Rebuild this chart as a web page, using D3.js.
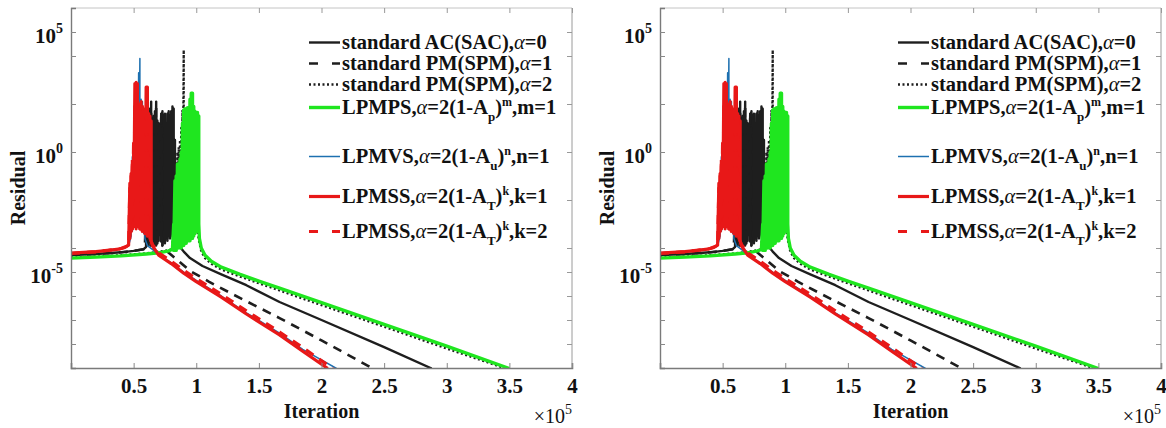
<!doctype html>
<html lang="en">
<head>
<meta charset="utf-8">
<title>Residual vs iteration</title>
<style>
  body { margin: 0; background: #fff; }
  svg text { font-family: "Liberation Serif", "Times New Roman", Times, serif; font-weight: bold; fill: #111; }
</style>
</head>
<body>
<script src="https://cdn.jsdelivr.net/npm/d3@7/dist/d3.min.js"></script>
<script>

// x is iteration / 1e5, y values are log10(residual)
var xTicks = [0.5, 1, 1.5, 2, 2.5, 3, 3.5, 4];
var yLabelTicks = [5, 0, -5];
var yMinorTicks = [4, 2, -2, -4, -6, -7, -8];

// each series: plateau points, oscillating band rows [x, high, low], converging tail
var sacStart = [[0,-4.29],[0.2,-4.25],[0.4,-4.18],[0.5,-4.12],[0.58,-4.05],[0.6,-3.95]];
var sacBand = [[0.61,-1.5,-3.8],[0.62,1.0,-3.9],[0.63,1.8,-3.7],[0.64,2.1,-3.9],[0.65,1.4,-3.8],
  [0.66,1.5,-4.0],[0.67,1.7,-3.6],[0.68,2.1,-3.9],[0.69,1.3,-3.8],[0.70,1.2,-3.7],[0.71,0.8,-3.2],
  [0.72,1.6,-3.5],[0.73,1.7,-3.9],[0.74,1.5,-3.7],[0.75,1.6,-3.8],[0.76,1.2,-3.6],[0.77,1.6,-3.7],
  [0.78,1.7,-3.5],[0.79,1.5,-3.6],[0.80,1.7,-3.4],[0.81,1.9,-3.5],[0.82,1.8,-3.6],[0.83,0.5,-3.7]];
var sacEnd = [[0.86,-3.9],[0.9,-4.15],[0.95,-4.42],[1.05,-4.75],[1.2,-5.1],[1.4,-5.55],[1.665,-6.25],
  [2.0,-7.0],[2.5,-8.13],[2.88,-9.02]];

var spm1Start = [[0,-4.29],[0.2,-4.25],[0.4,-4.18],[0.5,-4.12],[0.58,-4.05],[0.59,-3.95]];
var spm1Band = [[0.60,-2.0,-3.9],[0.61,0.5,-3.8],[0.62,1.2,-3.9],[0.63,1.7,-3.7],[0.64,1.6,-3.9],
  [0.65,1.3,-3.8],[0.66,1.4,-4.0],[0.67,1.4,-3.7],[0.68,1.9,-3.9],[0.69,1.2,-3.8],[0.70,1.0,-3.6],
  [0.71,1.1,-3.5],[0.72,1.4,-3.8],[0.73,1.0,-3.9]];
var spm1End = [[0.74,-3.95],[0.78,-4.2],[0.85,-4.5],[0.95,-4.95],[1.1,-5.4],[1.3,-5.95],[1.665,-6.92],
  [2.0,-7.85],[2.2,-8.42],[2.41,-9.02]];

var spm2Start = [[0,-4.4],[0.2,-4.36],[0.4,-4.3],[0.6,-4.22],[0.75,-4.12],[0.81,-4.05]];
var spm2Band = [[0.82,-2.0,-4.0],[0.83,-1.0,-3.9],[0.84,-0.5,-4.0],[0.85,0.0,-3.8],[0.86,0.2,-3.9],
  [0.87,0.5,-3.7],[0.88,1.0,-3.8],[0.89,1.75,-3.6],[0.90,4.25,-3.7],[0.91,1.5,-3.5],[0.92,1.5,-3.6],
  [0.93,1.4,-3.5],[0.94,1.6,-3.4],[0.95,1.5,-3.5],[0.96,2.0,-3.3],[0.97,2.2,-3.4],[0.98,1.5,-3.2],
  [0.99,1.3,-3.0]];
var spm2End = [[1.0,-3.0],[1.02,-3.65],[1.04,-4.15],[1.07,-4.42],[1.12,-4.66],[1.2,-4.9],[1.35,-5.19],
  [1.5,-5.47],[1.665,-5.77],[2.0,-6.38],[2.5,-7.28],[3.0,-8.19],[3.47,-9.02]];

var lpmpsStart = [[0,-4.42],[0.2,-4.38],[0.4,-4.33],[0.6,-4.25],[0.7,-4.2],[0.78,-4.12],[0.81,-4.05]];
var lpmpsBand = [[0.82,-3.0,-4.1],[0.83,-1.2,-4.0],[0.84,-1.0,-4.1],[0.85,-0.5,-3.9],[0.86,-0.8,-4.0],
  [0.87,-0.3,-3.9],[0.88,0.0,-4.0],[0.89,1.2,-3.8],[0.90,1.75,-3.9],[0.91,1.8,-3.7],[0.92,1.7,-3.8],
  [0.93,1.85,-3.7],[0.94,1.75,-3.6],[0.95,2.2,-3.7],[0.96,2.45,-3.5],[0.97,2.45,-3.6],[0.98,1.9,-3.5],
  [0.99,1.7,-3.4],[1.00,1.6,-3.3],[1.01,1.65,-3.2],[1.02,1.5,-3.0]];
var lpmpsEnd = [[1.025,-3.6],[1.04,-4.0],[1.07,-4.3],[1.12,-4.55],[1.2,-4.8],[1.35,-5.1],[1.5,-5.38],
  [1.665,-5.67],[2.0,-6.28],[2.5,-7.18],[3.0,-8.09],[3.5,-9.02]];

var lpmvsStart = [[0,-4.2],[0.2,-4.14],[0.4,-4.02],[0.46,-3.9],[0.48,-3.5]];
var lpmvsBand = [[0.49,-0.2,-3.3],[0.50,0.1,-3.1],[0.51,1.5,-3.0],[0.52,2.5,-3.2],[0.53,2.8,-3.1],
  [0.54,3.3,-3.0],[0.55,3.9,-3.2],[0.56,2.2,-3.1],[0.57,2.1,-3.3],[0.58,1.5,-3.4],[0.59,1.0,-3.6]];
var lpmvsEnd = [[0.61,-3.9],[0.66,-4.1],[0.7,-4.28],[0.8,-4.62],[0.9,-5.0],[1.0,-5.35],[1.2,-6.0],
  [1.4,-6.7],[1.665,-7.55],[1.85,-8.22],[2.12,-9.02]];

var lpmss1Start = [[0,-4.21],[0.1,-4.18],[0.2,-4.15],[0.3,-4.1],[0.38,-4.05],[0.43,-3.98],[0.46,-3.88]];
var lpmss1Band = [[0.47,-1.3,-3.6],[0.48,-0.9,-3.3],[0.49,-0.5,-3.2],[0.50,0.0,-3.1],[0.51,2.85,-3.0],
  [0.52,2.9,-3.2],[0.53,2.85,-3.1],[0.54,2.0,-3.0],[0.55,1.8,-3.2],[0.56,2.1,-3.1],[0.57,1.9,-3.3],
  [0.58,1.7,-3.2],[0.59,1.8,-3.4],[0.60,2.7,-3.3],[0.61,2.7,-3.5],[0.62,1.6,-3.4],[0.63,1.5,-3.6],
  [0.64,1.3,-3.7]];
var lpmss1End = [[0.65,-3.9],[0.7,-4.3],[0.8,-4.65],[0.9,-5.05],[1.0,-5.4],[1.2,-6.05],[1.4,-6.75],
  [1.665,-7.62],[1.85,-8.3],[2.05,-9.02]];

var lpmss2Start = [[0,-4.23],[0.2,-4.16],[0.4,-4.02],[0.46,-3.9]];
var lpmss2Band = [[0.47,-1.5,-3.5],[0.48,-1.0,-3.3],[0.49,-0.3,-3.2],[0.50,0.5,-3.1],[0.51,2.0,-3.0],
  [0.52,2.4,-3.2],[0.53,1.9,-3.1],[0.54,1.7,-3.0],[0.55,1.9,-3.2],[0.56,1.6,-3.1],[0.57,1.8,-3.3],
  [0.58,1.5,-3.2],[0.59,1.7,-3.4],[0.60,1.9,-3.3],[0.61,1.5,-3.5],[0.62,1.4,-3.4],[0.63,1.2,-3.6]];
var lpmss2End = [[0.65,-3.85],[0.7,-4.2],[0.8,-4.55],[0.9,-4.93],[1.0,-5.28],[1.2,-5.93],[1.4,-6.62],
  [1.665,-7.5],[1.85,-8.15],[2.09,-9.02]];

// legend texts, split into plain / italic / sub / sup pieces
var legendLabels = [
  [["standard AC(SAC),"],["α","i"],["=0"]],
  [["standard PM(SPM),"],["α","i"],["=1"]],
  [["standard PM(SPM),"],["α","i"],["=2"]],
  [["LPMPS,"],["α","i"],["=2(1-A"],["p","sub"],[")"],["m","sup"],[",m=1"]],
  [["LPMVS,"],["α","i"],["=2(1-A"],["u","sub"],[")"],["n","sup"],[",n=1"]],
  [["LPMSS,"],["α","i"],["=2(1-A"],["T","sub"],[")"],["k","sup"],[",k=1"]],
  [["LPMSS,"],["α","i"],["=2(1-A"],["T","sub"],[")"],["k","sup"],[",k=2"]]
];

function buildPoints(start, band, end) {
  var pts = start.slice();
  band.forEach(function(b) {
    pts.push([b[0], b[1]]);
    pts.push([b[0], b[2]]);
  });
  return pts.concat(end);
}

var series = [
  {pts: buildPoints(sacStart, sacBand, sacEnd), color: "#1e1e1e", width: 2.4, dash: null, key: null},
  {pts: buildPoints(spm1Start, spm1Band, spm1End), color: "#1e1e1e", width: 2.6, dash: "9,7", key: "9,14"},
  {pts: buildPoints(spm2Start, spm2Band, spm2End), color: "#1e1e1e", width: 2.3, dash: "2,2.5", key: "2,2.5"},
  {pts: buildPoints(lpmpsStart, lpmpsBand, lpmpsEnd), color: "#1fe61f", width: 3.4, dash: null, key: null},
  {pts: buildPoints(lpmvsStart, lpmvsBand, lpmvsEnd), color: "#1d70b0", width: 1.5, dash: null, key: null},
  {pts: buildPoints(lpmss1Start, lpmss1Band, lpmss1End), color: "#e81818", width: 3.2, dash: null, key: null},
  {pts: buildPoints(lpmss2Start, lpmss2Band, lpmss2End), color: "#e81818", width: 3.2, dash: "9,7", key: "9,14"}
];

// layout
var W = 501, H = 360, TOP = 8;
var panelLeft = [71, 660];
var legendBase = [41, 62, 83, 106, 155, 195, 230];

var x = d3.scaleLinear().domain([0, 4]).range([0, W]);
var y = d3.scaleLog().domain([1e-9, 1e6]).range([H, 0]);
var yv = function(v) { return y(Math.pow(10, v)); };

var line = d3.line()
  .x(function(d) { return x(d[0]); })
  .y(function(d) { return yv(d[1]); });

var svg = d3.select("body").append("svg")
  .attr("width", 1166)
  .attr("height", 428);

panelLeft.forEach(function(left, p) {
  var g = svg.append("g").attr("transform", "translate(" + left + "," + TOP + ")");

  g.append("clipPath").attr("id", "clip" + p)
    .append("rect").attr("width", W).attr("height", H);

  // frame: top / right lighter
  g.append("line").attr("x1", 0).attr("x2", W).attr("y1", 0).attr("y2", 0)
    .attr("stroke", "#c4c4c4").attr("stroke-width", 1);
  g.append("line").attr("x1", W).attr("x2", W).attr("y1", 0).attr("y2", H)
    .attr("stroke", "#9a9a9a").attr("stroke-width", 1);

  var topAxis = g.append("g")
    .call(d3.axisTop(x).tickValues(xTicks).tickSize(-5).tickFormat(""));
  topAxis.select(".domain").remove();
  topAxis.selectAll("line").attr("stroke", "#999");

  var rightAxis = g.append("g").attr("transform", "translate(" + W + ",0)")
    .call(d3.axisRight(y).tickValues(yLabelTicks.concat(yMinorTicks).map(function(v) { return Math.pow(10, v); }))
      .tickSize(-5).tickFormat(""));
  rightAxis.select(".domain").remove();
  rightAxis.selectAll("line").attr("stroke", "#999");

  // curves
  var plot = g.append("g").attr("clip-path", "url(#clip" + p + ")");
  plot.selectAll("path.curve")
    .data(series)
    .enter().append("path")
    .attr("class", "curve")
    .attr("d", function(d) { return line(d.pts); })
    .attr("fill", "none")
    .attr("stroke", function(d) { return d.color; })
    .attr("stroke-width", function(d) { return d.width; })
    .attr("stroke-dasharray", function(d) { return d.dash; })
    .attr("stroke-linejoin", "round");

  // bottom axis
  var xAxis = g.append("g").attr("transform", "translate(0," + H + ")")
    .call(d3.axisBottom(x).tickValues(xTicks).tickSize(-5).tickFormat(function(d) { return d; }));
  xAxis.attr("font-family", null);
  xAxis.select(".domain").attr("stroke", "#7a7a7a").attr("stroke-width", 1.6);
  xAxis.selectAll("line").attr("stroke", "#888");
  xAxis.selectAll("text")
    .attr("y", 25).attr("dy", 0)
    .style("font-size", "21px")
    .attr("fill", "#111");

  // left axis
  var yAxis = g.append("g")
    .call(d3.axisLeft(y).tickValues(yLabelTicks.concat(yMinorTicks).map(function(v) { return Math.pow(10, v); }))
      .tickSize(-5).tickFormat(""));
  yAxis.select(".domain").attr("stroke", "#7a7a7a").attr("stroke-width", 1.4);
  yAxis.selectAll("line").attr("stroke", "#888");

  yLabelTicks.forEach(function(v) {
    var t = g.append("text")
      .attr("x", -8)
      .attr("y", yv(v) + 11)
      .attr("text-anchor", "end")
      .style("font-size", "21px");
    t.append("tspan").text("10");
    t.append("tspan").attr("dy", -10).style("font-size", "14px").text(v < 0 ? "-" + (-v) : v);
  });

  // axis titles
  g.append("text")
    .attr("x", W / 2).attr("y", 410)
    .attr("text-anchor", "middle")
    .style("font-size", "20px")
    .text("Iteration");

  g.append("text")
    .attr("transform", "translate(-46," + (H / 2) + ") rotate(-90)")
    .attr("text-anchor", "middle")
    .style("font-size", "20px")
    .text("Residual");

  var ex = g.append("text")
    .attr("x", W).attr("y", 415)
    .attr("text-anchor", "end")
    .style("font-size", "20px")
    .style("font-weight", "normal");
  ex.append("tspan").text("×10");
  ex.append("tspan").attr("dy", -9).style("font-size", "14px").text("5");

  // legend
  var leg = g.append("g");
  series.forEach(function(s, i) {
    var base = legendBase[i];
    leg.append("line")
      .attr("x1", 238).attr("x2", 269)
      .attr("y1", base - 6.5).attr("y2", base - 6.5)
      .attr("stroke", s.color)
      .attr("stroke-width", s.width)
      .attr("stroke-dasharray", s.key);

    var t = leg.append("text")
      .attr("x", 271).attr("y", base)
      .style("font-size", "20.5px");
    var shift = 0;
    legendLabels[i].forEach(function(part) {
      var ts = t.append("tspan").text(part[0]);
      var want = 0;
      if (part[1] === "i") ts.style("font-style", "italic").style("font-weight", "normal");
      if (part[1] === "sub") { want = 7; ts.style("font-size", "13px"); }
      if (part[1] === "sup") { want = -8; ts.style("font-size", "12px"); }
      if (want !== shift) ts.attr("dy", want - shift);
      shift = want;
    });
  });
});

</script>
</body>
</html>
